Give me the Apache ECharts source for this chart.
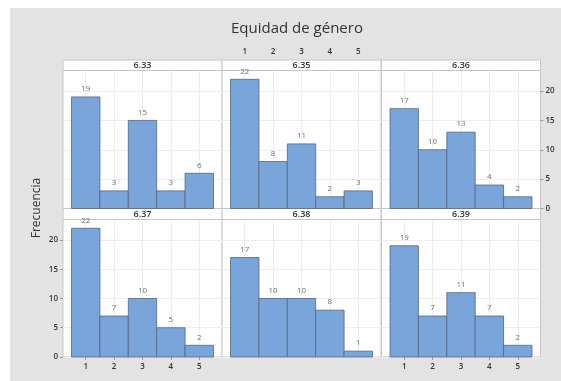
<!DOCTYPE html>
<html>
<head>
<meta charset="utf-8">
<script src="https://cdn.jsdelivr.net/npm/echarts@6/dist/echarts.min.js"></script>
<style>
  html, body { margin: 0; padding: 0; background: #fff; }
  #main { width: 561px; height: 381px; }
</style>
</head>
<body>
<div id="main"></div>
<script>
var panels = ['6.33', '6.35', '6.36', '6.37', '6.38', '6.39'];
var categories = [1, 2, 3, 4, 5];
var freq633 = [19, 3, 15, 3, 6];
var freq635 = [22, 8, 11, 2, 3];
var freq636 = [17, 10, 13, 4, 2];
var freq637 = [22, 7, 10, 5, 2];
var freq638 = [17, 10, 10, 8, 1];
var freq639 = [19, 7, 11, 7, 2];
var yTicks = [0, 5, 10, 15, 20];
var allFreq = [freq633, freq635, freq636, freq637, freq638, freq639];

var dom = document.getElementById('main');
var myChart = echarts.init(dom, null, { renderer: 'canvas' });

var FONT = '"Open Sans", "Noto Sans", sans-serif';
var colLeft = [63, 222, 381.5];
var colW = 159;
var rowTop = [70.5, 219.5];
var rowH = [138, 137.5];
var stripTop = [60, 208.5];
var stripH = [10.5, 11];

function renderBar(params, api) {
  var x = api.value(0), v = api.value(1);
  var p0 = api.coord([x - 0.5, v]);
  var p1 = api.coord([x + 0.5, 0]);
  return {
    type: 'group',
    children: [
      {
        type: 'rect',
        shape: { x: p0[0], y: p0[1], width: p1[0] - p0[0], height: p1[1] - p0[1] },
        style: { fill: '#7aa5da', stroke: '#55657a', lineWidth: 0.8 }
      },
      {
        type: 'text',
        z2: 10,
        style: {
          text: String(v), x: (p0[0] + p1[0]) / 2, y: p0[1] - 4,
          align: 'center', verticalAlign: 'bottom',
          fill: '#707070', font: '8px ' + FONT
        }
      }
    ]
  };
}

var grids = [], xAxes = [], yAxes = [], series = [], graphics = [];

graphics.push({
  type: 'rect', z: -10, silent: true,
  shape: { x: 10, y: 8, width: 551, height: 373 },
  style: { fill: '#e3e3e3' }
});
graphics.push({
  type: 'text', z: 5,
  x: 37, y: 208, rotation: Math.PI / 2,
  style: {
    text: 'Frecuencia', align: 'center', verticalAlign: 'middle',
    fill: '#333', font: '12px ' + FONT
  }
});

for (var i = 0; i < panels.length; i++) {
  var r = Math.floor(i / 3), c = i % 3;
  grids.push({
    left: colLeft[c], top: rowTop[r], width: colW, height: rowH[r],
    show: true, backgroundColor: '#fff', borderColor: '#c6c6c6', borderWidth: 1
  });

  var xTop = (r === 0 && c === 1);
  var xBottom = (r === 1 && c !== 1);
  xAxes.push({
    type: 'value', gridIndex: i, min: 0.2, max: 5.8,
    position: xTop ? 'top' : 'bottom',
    offset: xTop ? stripH[0] : 0,
    axisLine: { show: false },
    axisTick: {
      show: xTop || xBottom, length: xTop ? 4 : 3,
      customValues: categories,
      lineStyle: { color: '#999' }
    },
    axisLabel: {
      show: xTop || xBottom, customValues: categories,
      margin: xTop ? 4 : 6,
      color: '#333', fontSize: 8, fontWeight: 600, fontFamily: FONT
    },
    splitLine: { show: true, lineStyle: { color: '#ededed', width: 1 } }
  });

  var yRight = (r === 0 && c === 2);
  var yLeft = (r === 1 && c === 0);
  yAxes.push({
    type: 'value', gridIndex: i, min: 0, max: 23.5,
    position: yRight ? 'right' : 'left',
    axisLine: { show: false },
    axisTick: {
      show: yRight || yLeft, length: 3,
      customValues: yTicks,
      lineStyle: { color: '#999' }
    },
    axisLabel: {
      show: yRight || yLeft, customValues: yTicks,
      margin: 5, color: '#333', fontSize: 8, fontWeight: 600, fontFamily: FONT
    },
    splitLine: { show: true, lineStyle: { color: '#ededed', width: 1 } }
  });

  series.push({
    type: 'custom', xAxisIndex: i, yAxisIndex: i, z: 3,
    clip: false,
    renderItem: renderBar,
    data: categories.map(function (k, j) { return [k, this[j]]; }, allFreq[i])
  });

  graphics.push({
    type: 'rect', z: 1, silent: true,
    shape: { x: colLeft[c], y: stripTop[r], width: colW, height: stripH[r] },
    style: { fill: '#fff', stroke: '#c6c6c6', lineWidth: 1 }
  });
  graphics.push({
    type: 'text', z: 2, silent: true,
    x: colLeft[c] + colW / 2, y: stripTop[r] + stripH[r] / 2 + 0.5,
    style: {
      text: panels[i], align: 'center', verticalAlign: 'middle',
      fill: '#333', font: '600 9px ' + FONT
    }
  });
}

var option = {
  backgroundColor: '#fff',
  animation: false,
  title: {
    text: 'Equidad de género',
    left: 226, top: 16,
    textStyle: { color: '#333', fontSize: 15, fontWeight: 'normal', fontFamily: FONT }
  },
  grid: grids,
  xAxis: xAxes,
  yAxis: yAxes,
  graphic: graphics,
  series: series
};

if (option && typeof option === 'object') {
  myChart.setOption(option);
}
</script>
</body>
</html>
